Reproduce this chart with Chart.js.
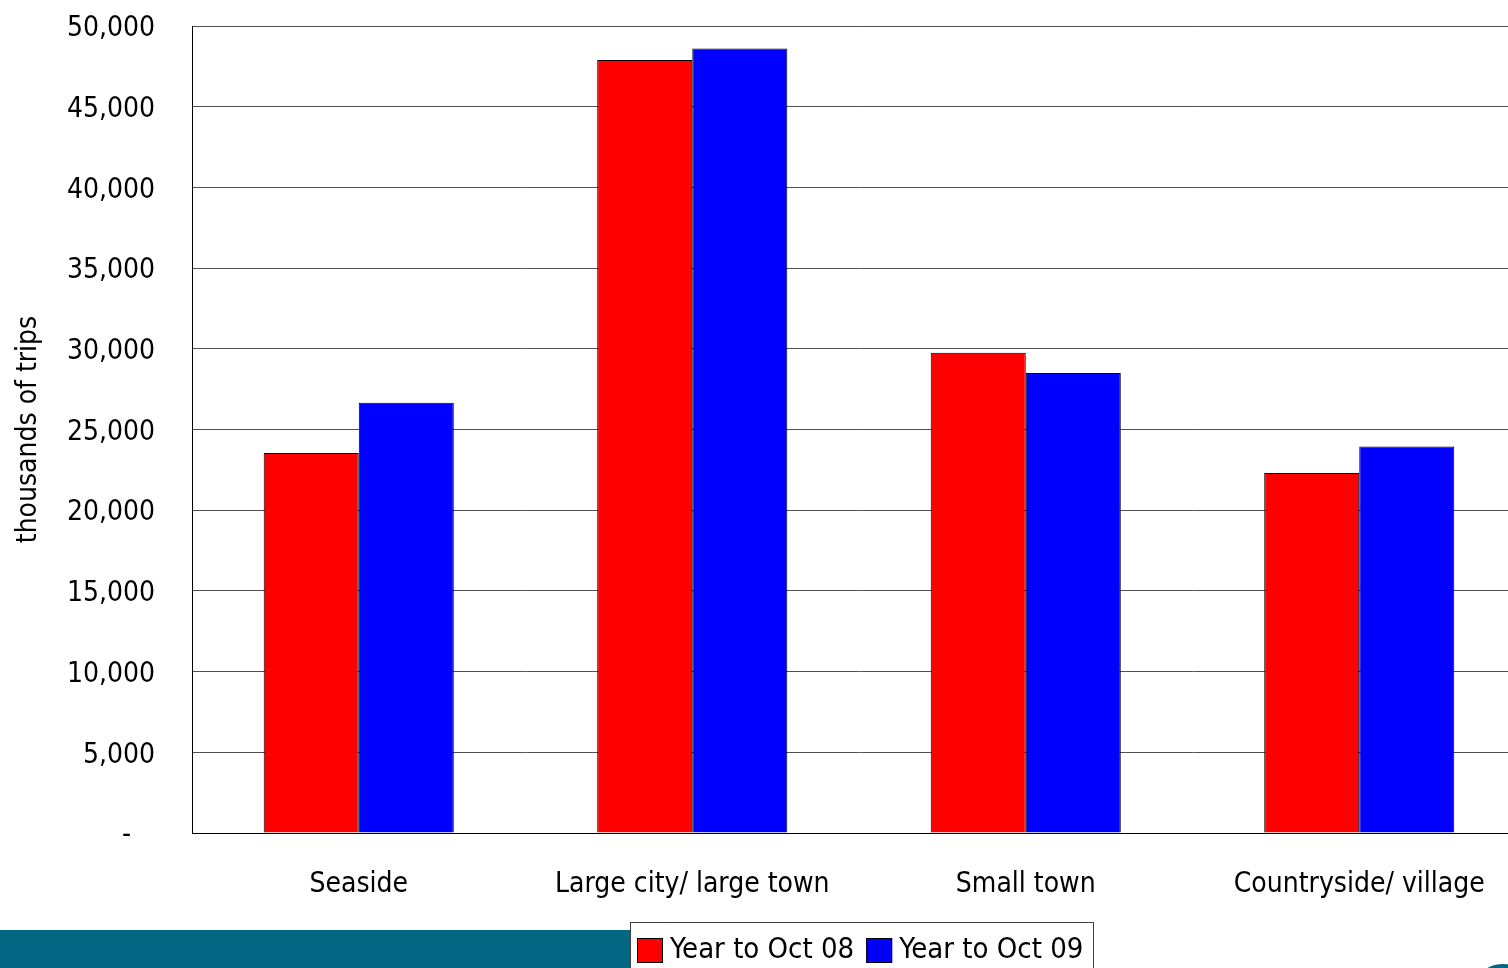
<!DOCTYPE html>
<html>
<head>
<meta charset="utf-8">
<script src="https://cdn.jsdelivr.net/npm/chart.js@4/dist/chart.umd.min.js"></script>
<style>
  html, body { margin: 0; padding: 0; background: #fff; overflow: hidden; }
  #wrap { position: absolute; left: 0; top: 0; width: 1526px; height: 968px; }
</style>
</head>
<body>
<div id="wrap"><canvas id="c" width="1526" height="968"></canvas></div>
<script>
// Trips by destination type (thousands)
const categories = ['Seaside', 'Large city/ large town', 'Small town', 'Countryside/ village'];
const seriesNames = ['Year to Oct 08', 'Year to Oct 09'];
const tripsOct08 = [23550, 47900, 29750, 22300];
const tripsOct09 = [26650, 48600, 28500, 23950];
const yTickLabels = ['-   ', '5,000', '10,000', '15,000', '20,000', '25,000', '30,000', '35,000', '40,000', '45,000', '50,000'];

const FONT = "'Liberation Sans Narrow', 'Arial Narrow', 'DejaVu Sans Condensed', sans-serif";
const TEAL = '#006682';

// Footer band, legend box and corner mark
const decor = {
  id: 'decor',
  afterDraw(chart) {
    const ctx = chart.ctx;
    ctx.save();
    ctx.fillStyle = TEAL;
    ctx.fillRect(0, 930, 631, 40);
    ctx.beginPath();
    ctx.ellipse(1503, 978, 22, 14, 0, 0, Math.PI * 2);
    ctx.fill();

    // legend
    const x0 = 630.5, y0 = 922.5, w = 463, h = 60;
    ctx.fillStyle = '#fff';
    ctx.fillRect(x0, y0, w, h);
    ctx.strokeStyle = '#404040';
    ctx.lineWidth = 1;
    ctx.strokeRect(x0, y0, w, h);
    ctx.font = '29px ' + FONT;
    ctx.textBaseline = 'middle';
    let x = 637;
    chart.data.datasets.forEach(ds => {
      ctx.fillStyle = ds.backgroundColor;
      ctx.fillRect(x, 938, 26, 25);
      ctx.strokeStyle = '#000';
      ctx.strokeRect(x + 0.5, 938.5, 25, 24);
      ctx.fillStyle = '#000';
      ctx.fillText(ds.label, x + 33, 950);
      x += 33 + ctx.measureText(ds.label).width + 12;
    });
    ctx.restore();
  }
};

new Chart(document.getElementById('c'), {
  type: 'bar',
  data: {
    labels: categories,
    datasets: [
      { label: seriesNames[0], data: tripsOct08, backgroundColor: '#FF0000', borderColor: '#000', borderWidth: 1, borderSkipped: 'bottom' },
      { label: seriesNames[1], data: tripsOct09, backgroundColor: '#0000FF', borderColor: '#000', borderWidth: 1, borderSkipped: 'bottom' }
    ]
  },
  options: {
    responsive: false,
    animation: false,
    layout: { padding: { top: 26, right: 0, left: 0, bottom: 0 } },
    datasets: { bar: { categoryPercentage: 0.57, barPercentage: 1.0 } },
    plugins: { legend: { display: false }, tooltip: { enabled: false } },
    scales: {
      x: {
        grid: { display: false, drawTicks: false },
        border: { color: '#000', width: 1 },
        ticks: { color: '#000', font: { family: FONT, size: 28 }, padding: 35, maxRotation: 0 },
        afterFit(s) { s.height = 135; s.paddingLeft = 0; s.paddingRight = 0; }
      },
      y: {
        min: 0, max: 50000,
        grid: { color: '#505050', lineWidth: 1, drawTicks: false },
        border: { color: '#000', width: 1 },
        ticks: {
          stepSize: 5000, color: '#000', font: { family: FONT, size: 28 }, padding: 37, labelOffset: 3,
          callback: (v, i) => yTickLabels[i]
        },
        title: { display: true, text: 'thousands of trips', color: '#000', font: { family: FONT, size: 28 }, padding: { top: 12, bottom: 0 } },
        afterFit(s) { s.width = 192; s.paddingTop = 0; s.paddingBottom = 0; }
      }
    }
  },
  plugins: [decor]
});
</script>
</body>
</html>
